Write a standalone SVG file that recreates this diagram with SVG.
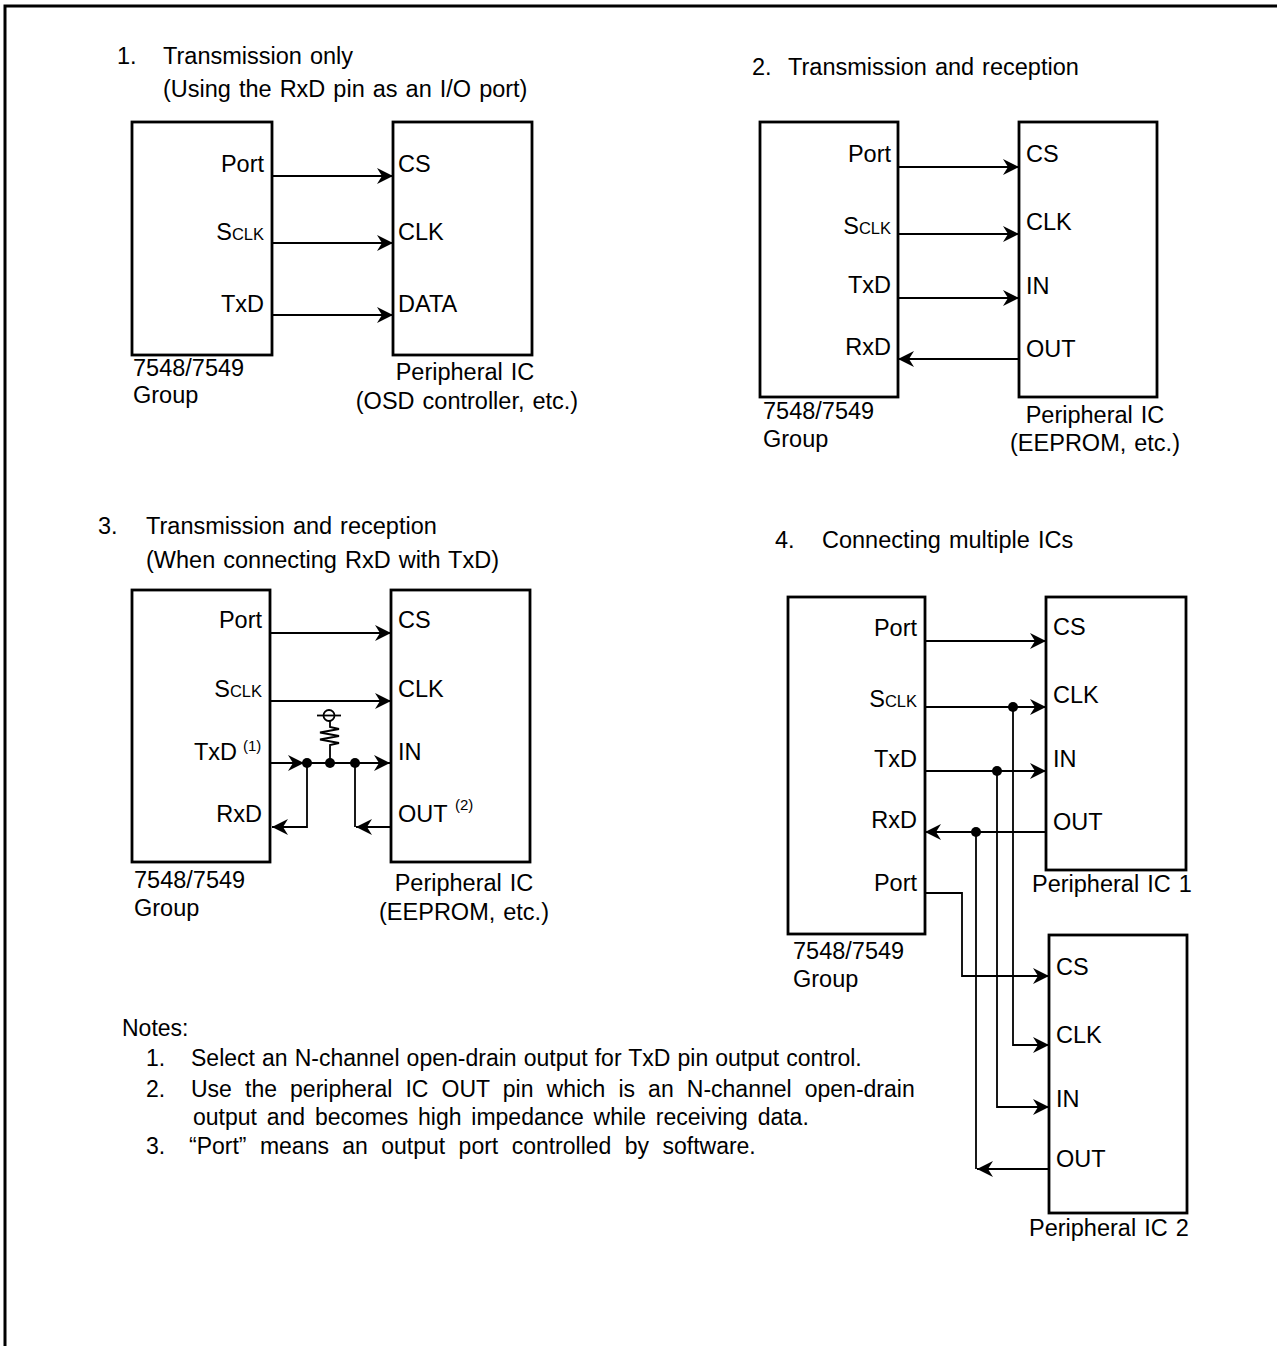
<svg xmlns="http://www.w3.org/2000/svg" width="1277" height="1346" viewBox="0 0 1277 1346">
<style>
text{font-family:"Liberation Sans",Arial,sans-serif;font-size:23.5px;word-spacing:1.5px;fill:#000}
.r{text-anchor:end}
.m{text-anchor:middle}
.sc{font-size:16.5px}
.sup{font-size:15px}
.n{font-size:23px;word-spacing:0}
.box{fill:#fff;stroke:#000;stroke-width:2.8}
.w{fill:none;stroke:#000;stroke-width:1.8}
.a{marker-end:url(#arr)}
.dot{fill:#000}
</style>
<defs>
<marker id="arr" viewBox="-18 -10 20 20" refX="0" refY="0" markerWidth="20" markerHeight="20" markerUnits="userSpaceOnUse" orient="auto">
<path d="M0,0 L-16,-8 L-11,0 L-16,8 Z" fill="#000"/>
</marker>
</defs>
<rect width="1277" height="1346" fill="#fff"/>
<path d="M5,1346 V6 H1277" fill="none" stroke="#000" stroke-width="3"/>

<!-- Diagram 1 -->
<g id="title1">
<text x="117" y="64">1.</text>
<text x="163" y="64">Transmission only</text>
<text x="163" y="97">(Using the RxD pin as an I/O port)</text>
</g>
<g id="mcu1">
<rect class="box" x="132" y="122" width="140" height="233"/>
<text class="r" x="264" y="172">Port</text>
<text class="r" x="264" y="240">S<tspan class="sc">CLK</tspan></text>
<text class="r" x="264" y="312">TxD</text>
<text x="133" y="376">7548/7549</text>
<text x="133" y="403">Group</text>
</g>
<g id="per1">
<rect class="box" x="393" y="122" width="139" height="233"/>
<text x="398" y="172">CS</text>
<text x="398" y="240">CLK</text>
<text x="398" y="312">DATA</text>
<text class="m" x="465" y="380">Peripheral IC</text>
<text class="m" x="467" y="409">(OSD controller, etc.)</text>
</g>

<!-- Diagram 2 -->
<g id="title2">
<text x="752" y="75">2.</text>
<text x="788" y="75">Transmission and reception</text>
</g>
<g id="mcu2">
<rect class="box" x="760" y="122" width="138" height="275"/>
<text class="r" x="891" y="162">Port</text>
<text class="r" x="891" y="234">S<tspan class="sc">CLK</tspan></text>
<text class="r" x="891" y="293">TxD</text>
<text class="r" x="891" y="355">RxD</text>
<text x="763" y="419">7548/7549</text>
<text x="763" y="447">Group</text>
</g>
<g id="per2">
<rect class="box" x="1019" y="122" width="138" height="275"/>
<text x="1026" y="162">CS</text>
<text x="1026" y="230">CLK</text>
<text x="1026" y="294">IN</text>
<text x="1026" y="357">OUT</text>
<text class="m" x="1095" y="423">Peripheral IC</text>
<text class="m" x="1095" y="451">(EEPROM, etc.)</text>
</g>

<!-- Diagram 3 -->
<g id="title3">
<text x="98" y="534">3.</text>
<text x="146" y="534">Transmission and reception</text>
<text x="146" y="568">(When connecting RxD with TxD)</text>
</g>
<g id="mcu3">
<rect class="box" x="132" y="590" width="138" height="272"/>
<text class="r" x="262" y="628">Port</text>
<text class="r" x="262" y="697">S<tspan class="sc">CLK</tspan></text>
<text class="r" x="237" y="760">TxD</text>
<text x="243" y="751" class="sup">(1)</text>
<text class="r" x="262" y="822">RxD</text>
<text x="134" y="888">7548/7549</text>
<text x="134" y="916">Group</text>
</g>
<g id="per3">
<rect class="box" x="391" y="590" width="139" height="272"/>
<text x="398" y="628">CS</text>
<text x="398" y="697">CLK</text>
<text x="398" y="760">IN</text>
<text x="398" y="822">OUT</text>
<text x="455" y="810" class="sup">(2)</text>
<text class="m" x="464" y="891">Peripheral IC</text>
<text class="m" x="464" y="920">(EEPROM, etc.)</text>
</g>
<g id="resistor3">
<path class="w" d="M330,763 V745 L339,743 L320,739.5 L339,736 L320,732.5 L339,729 L330,727 V721"/>
<circle cx="329" cy="715.5" r="5.5" fill="none" stroke="#000" stroke-width="1.8"/>
<path class="w" d="M317,715.5 H341"/>
</g>

<!-- Diagram 4 -->
<g id="title4">
<text x="775" y="548">4.</text>
<text x="822" y="548">Connecting multiple ICs</text>
</g>
<g id="mcu4">
<rect class="box" x="788" y="597" width="137" height="337"/>
<text class="r" x="917" y="636">Port</text>
<text class="r" x="917" y="707">S<tspan class="sc">CLK</tspan></text>
<text class="r" x="917" y="767">TxD</text>
<text class="r" x="917" y="828">RxD</text>
<text class="r" x="917" y="891">Port</text>
<text x="793" y="959">7548/7549</text>
<text x="793" y="987">Group</text>
</g>
<g id="per4a">
<rect class="box" x="1046" y="597" width="140" height="273"/>
<text x="1053" y="635">CS</text>
<text x="1053" y="703">CLK</text>
<text x="1053" y="767">IN</text>
<text x="1053" y="830">OUT</text>
<text x="1032" y="892">Peripheral IC 1</text>
</g>
<g id="per4b">
<rect class="box" x="1049" y="935" width="138" height="278"/>
<text x="1056" y="975">CS</text>
<text x="1056" y="1043">CLK</text>
<text x="1056" y="1107">IN</text>
<text x="1056" y="1167">OUT</text>
<text x="1029" y="1236">Peripheral IC 2</text>
</g>

<!-- Connectors -->
<g id="connectors">
<path class="w a" d="M272,176 H393"/>
<path class="w a" d="M272,243 H393"/>
<path class="w a" d="M272,315 H393"/>

<path class="w a" d="M898,167 H1019"/>
<path class="w a" d="M898,234 H1019"/>
<path class="w a" d="M898,298 H1019"/>
<path class="w a" d="M1019,359 H898"/>

<path class="w a" d="M270,633 H391"/>
<path class="w a" d="M270,701 H391"/>
<path class="w a" d="M270,763 H304"/>
<path class="w a" d="M304,763 H390"/>
<path class="w a" d="M307,763 V827 H272"/>
<path class="w a" d="M391,827 H356"/>
<path class="w" d="M355,827 V763"/>
<circle class="dot" cx="307" cy="763" r="5"/>
<circle class="dot" cx="330" cy="763" r="5"/>
<circle class="dot" cx="355" cy="763" r="5"/>

<path class="w a" d="M925,641 H1046"/>
<path class="w a" d="M925,707 H1046"/>
<path class="w a" d="M925,771 H1046"/>
<path class="w a" d="M1046,832 H925"/>
<path class="w a" d="M925,893 H962 V976 H1049"/>
<path class="w a" d="M1013,707 V1045 H1049"/>
<path class="w a" d="M997,771 V1107 H1049"/>
<path class="w a" d="M1049,1169 H977"/>
<path class="w" d="M976,832 V1169"/>
<circle class="dot" cx="1013" cy="707" r="5"/>
<circle class="dot" cx="997" cy="771" r="5"/>
<circle class="dot" cx="976" cy="832" r="5"/>
</g>

<!-- Notes -->
<g id="notes">
<text class="n" x="122" y="1036">Notes:</text>
<text class="n" x="146" y="1066">1.</text>
<text class="n" x="191" y="1066" style="word-spacing:0.7px">Select an N-channel open-drain output for TxD pin output control.</text>
<text class="n" x="146" y="1097">2.</text>
<text class="n" x="191" y="1097" style="word-spacing:6.7px">Use the peripheral IC OUT pin which is an N-channel open-drain</text>
<text class="n" x="193" y="1125" style="word-spacing:3.4px">output and becomes high impedance while receiving data.</text>
<text class="n" x="146" y="1154">3.</text>
<text class="n" x="189" y="1154" style="word-spacing:7px">“Port” means an output port controlled by software.</text>
</g>
</svg>
